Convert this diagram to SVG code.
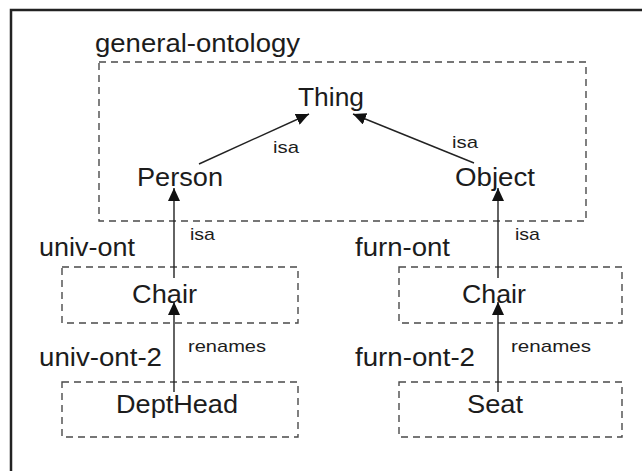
<svg xmlns="http://www.w3.org/2000/svg" width="642" height="471" viewBox="0 0 642 471">
<defs>
<style>
text{font-family:"Liberation Sans",Arial,sans-serif;fill:#1c1c1c}
.lbl{font-size:25px}
.node{font-size:25px;text-anchor:middle}
.edge{font-size:17px}
.box{fill:none;stroke:#4a4a4a;stroke-width:1.4;stroke-dasharray:7,5}
.conn{fill:none;stroke:#222;stroke-width:1.4}
</style>
<marker id="ah" markerUnits="userSpaceOnUse" markerWidth="14" markerHeight="12" refX="13" refY="6" orient="auto">
<path d="M0,0 L13,6 L0,12 Z" fill="#111"/>
</marker>
</defs>
<rect x="0" y="0" width="642" height="471" fill="#fff"/>
<rect x="11" y="10" width="650" height="480" fill="none" stroke="#222" stroke-width="2.5"/>

<g id="general-ontology">
<rect class="box" x="99" y="62" width="487" height="159"/>
<text class="lbl" x="95" y="52" textLength="205" lengthAdjust="spacingAndGlyphs">general-ontology</text>
</g>
<g id="univ-ont">
<rect class="box" x="62" y="267" width="236" height="56"/>
<text class="lbl" x="39" y="256" textLength="96" lengthAdjust="spacingAndGlyphs">univ-ont</text>
</g>
<g id="furn-ont">
<rect class="box" x="399" y="267" width="223" height="56"/>
<text class="lbl" x="355" y="256" textLength="95" lengthAdjust="spacingAndGlyphs">furn-ont</text>
</g>
<g id="univ-ont-2">
<rect class="box" x="62" y="382" width="236" height="55"/>
<text class="lbl" x="39" y="366" textLength="123" lengthAdjust="spacingAndGlyphs">univ-ont-2</text>
</g>
<g id="furn-ont-2">
<rect class="box" x="399" y="382" width="223" height="55"/>
<text class="lbl" x="355" y="366" textLength="120" lengthAdjust="spacingAndGlyphs">furn-ont-2</text>
</g>

<g id="thing"><text class="node" x="331" y="106" textLength="66" lengthAdjust="spacingAndGlyphs">Thing</text></g>
<g id="person"><text class="node" x="180" y="186" textLength="86" lengthAdjust="spacingAndGlyphs">Person</text></g>
<g id="object"><text class="node" x="495" y="186" textLength="80" lengthAdjust="spacingAndGlyphs">Object</text></g>
<g id="univ-chair"><text class="node" x="164.5" y="303" textLength="65" lengthAdjust="spacingAndGlyphs">Chair</text></g>
<g id="furn-chair"><text class="node" x="494" y="303" textLength="64" lengthAdjust="spacingAndGlyphs">Chair</text></g>
<g id="depthead"><text class="node" x="177" y="413" textLength="122" lengthAdjust="spacingAndGlyphs">DeptHead</text></g>
<g id="seat"><text class="node" x="495" y="413" textLength="56" lengthAdjust="spacingAndGlyphs">Seat</text></g>

<g id="connectors">
<line class="conn" x1="199" y1="164" x2="309" y2="114" marker-end="url(#ah)"/>
<line class="conn" x1="474" y1="163" x2="353" y2="114" marker-end="url(#ah)"/>
<line class="conn" x1="174" y1="278" x2="174" y2="188" marker-end="url(#ah)"/>
<line class="conn" x1="498" y1="278" x2="498" y2="188" marker-end="url(#ah)"/>
<line class="conn" x1="174" y1="392" x2="174" y2="302" marker-end="url(#ah)"/>
<line class="conn" x1="498" y1="392" x2="498" y2="302" marker-end="url(#ah)"/>
<text class="edge" x="273" y="153" textLength="26" lengthAdjust="spacingAndGlyphs">isa</text>
<text class="edge" x="452" y="148" textLength="26" lengthAdjust="spacingAndGlyphs">isa</text>
<text class="edge" x="190" y="240" textLength="25" lengthAdjust="spacingAndGlyphs">isa</text>
<text class="edge" x="515" y="240" textLength="25" lengthAdjust="spacingAndGlyphs">isa</text>
<text class="edge" x="188" y="352" textLength="78" lengthAdjust="spacingAndGlyphs">renames</text>
<text class="edge" x="511" y="352" textLength="80" lengthAdjust="spacingAndGlyphs">renames</text>
</g>
</svg>
